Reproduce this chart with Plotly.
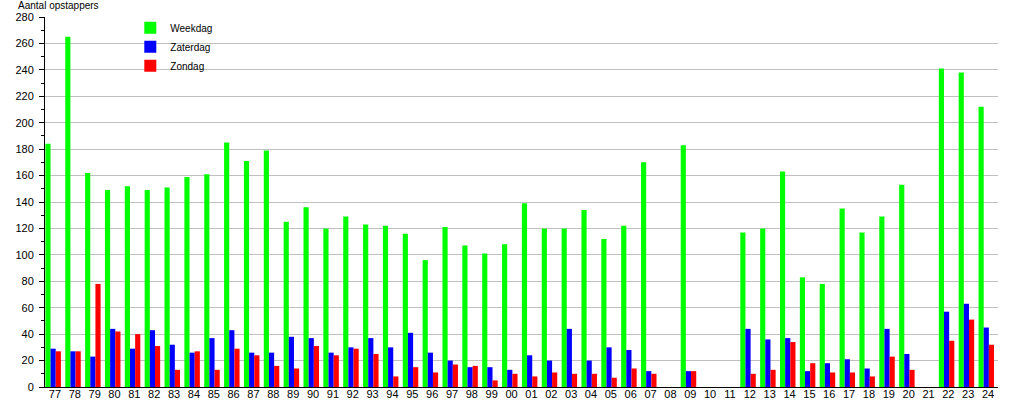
import plotly.graph_objects as go

jaren = ['77', '78', '79', '80', '81', '82', '83', '84', '85', '86', '87', '88',
         '89', '90', '91', '92', '93', '94', '95', '96', '97', '98', '99', '00',
         '01', '02', '03', '04', '05', '06', '07', '08', '09', '10', '11', '12',
         '13', '14', '15', '16', '17', '18', '19', '20', '21', '22', '23', '24']

weekdag = [184, 265, 162, 149, 152, 149, 151, 159, 161, 185, 171, 179,
           125, 136, 120, 129, 123, 122, 116, 96, 121, 107, 101, 108,
           139, 120, 120, 134, 112, 122, 170, None, 183, None, None, 117,
           120, 163, 83, 78, 135, 117, 129, 153, None, 241, 238, 212]

zaterdag = [29, 27, 23, 44, 29, 43, 32, 26, 37, 43, 26, 26,
            38, 37, 26, 30, 37, 30, 41, 26, 20, 15, 15, 13,
            24, 20, 44, 20, 30, 28, 12, None, 12, None, None, 44,
            36, 37, 12, 18, 21, 14, 44, 25, None, 57, 63, 45]

zondag = [27, 27, 78, 42, 40, 31, 13, 27, 13, 29, 24, 16,
          14, 31, 24, 29, 25, 8, 15, 11, 17, 16, 5, 10,
          8, 11, 10, 10, 7, 14, 10, None, 12, None, None, 10,
          13, 34, 18, 11, 11, 8, 23, 13, None, 35, 51, 32]

font = 'Liberation Sans, Arial, sans-serif'

fig = go.Figure()
series = [('Weekdag', weekdag, '#00ff00', -0.48),
          ('Zaterdag', zaterdag, '#0000ff', -0.22),
          ('Zondag', zondag, '#ff0000', 0.04)]
for naam, waarden, kleur, offset in series:
    fig.add_trace(go.Bar(x=jaren, y=waarden, name=naam, marker_color=kleur,
                         marker_line_width=0, width=0.26, offset=offset))

fig.update_layout(
    width=1015, height=400,
    barmode='overlay',
    margin=dict(l=45, r=17, t=17, b=13),
    paper_bgcolor='white', plot_bgcolor='white',
    font=dict(family=font, size=11, color='black'),
    showlegend=True,
    legend=dict(x=0.0895, y=1.01, xanchor='left', yanchor='top',
                bgcolor='rgba(0,0,0,0)', font=dict(size=10), tracegroupgap=0),
    annotations=[dict(text='Aantal opstappers', xref='paper', yref='paper',
                      x=-0.029, y=1.03, xanchor='left', yanchor='middle',
                      showarrow=False, font=dict(size=10), borderpad=0)],
)
fig.update_xaxes(type='category', showgrid=False, showline=True, linecolor='black',
                 linewidth=1, ticks='', tickfont=dict(size=11), automargin=False,
                 ticklabelstandoff=-3, range=[-0.5, 47.5])
fig.update_yaxes(range=[0, 280], dtick=20, showgrid=True, gridcolor='#c0c0c0',
                 showline=True, linecolor='black', linewidth=1,
                 ticks='outside', ticklen=5, tickcolor='black',
                 minor=dict(dtick=10, ticks='outside', ticklen=3, tickcolor='black', showgrid=False),
                 tickfont=dict(size=11), ticklabelstandoff=3, automargin=False, zeroline=False)

# page body has a default 8px margin; drop it so the chart sits at the window's corner
fig.write_html('out.html', config={'displayModeBar': False},
               post_script="document.body.style.margin='0';")
